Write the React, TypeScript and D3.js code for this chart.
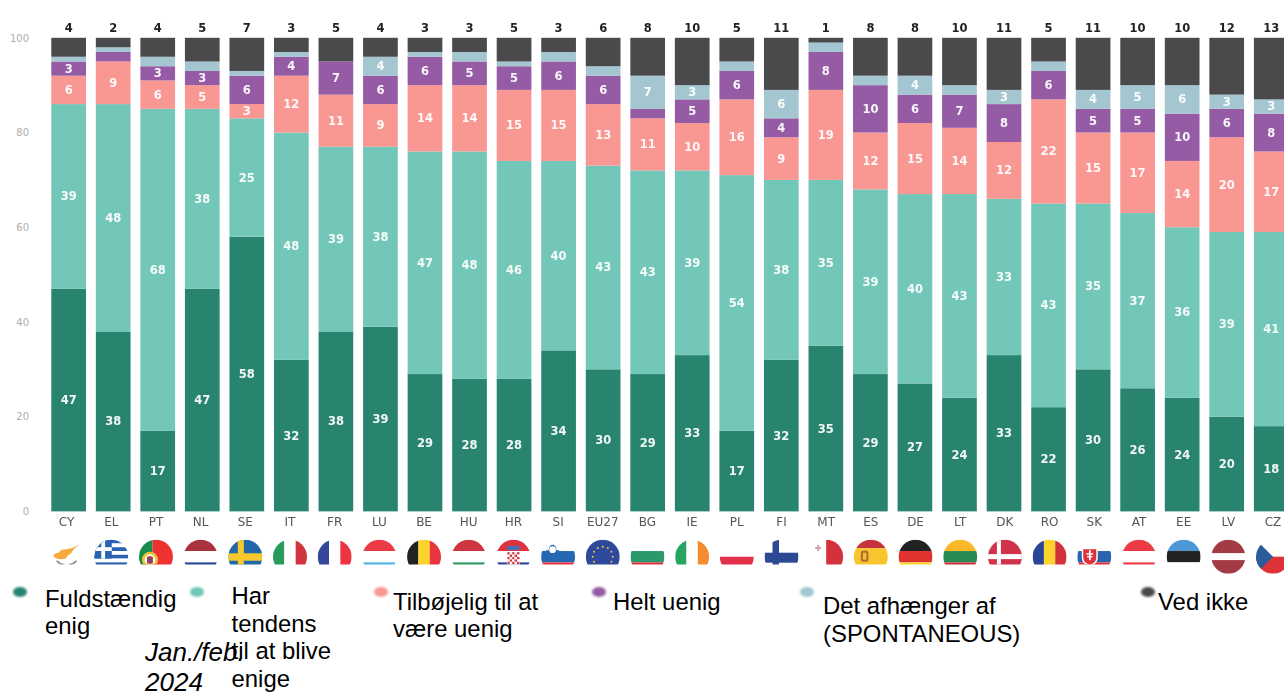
import React from "react";
import * as d3 from "d3";

const countries = ["CY","EL","PT","NL","SE","IT","FR","LU","BE","HU","HR","SI","EU27","BG","IE","PL","FI","MT","ES","DE","LT","DK","RO","SK","AT","EE","LV","CZ"];
const totallyAgree = [47,38,17,47,58,32,38,39,29,28,28,34,30,29,33,17,32,35,29,27,24,33,22,30,26,24,20,18];
const tendAgree    = [39,48,68,38,25,48,39,38,47,48,46,40,43,43,39,54,38,35,39,40,43,33,43,35,37,36,39,41];
const tendDisagree = [6,9,6,5,3,12,11,9,14,14,15,15,13,11,10,16,9,19,12,15,14,12,22,15,17,14,20,17];
const totallyDisagree = [3,2,3,3,6,4,7,6,6,5,5,6,6,2,5,6,4,8,10,6,7,8,6,5,5,10,6,8];
const depends = [1,1,2,2,1,1,0,4,1,2,1,2,2,7,3,2,6,2,2,4,2,3,2,4,5,6,3,3];
const dontKnow = [4,2,4,5,7,3,5,4,3,3,5,3,6,8,10,5,11,1,8,8,10,11,5,11,10,10,12,13];

const seriesKeys = ["a","b","c","d","e","f"];
const seriesColors = ["#28846f","#72c7b8","#f99792","#955ba5","#a3c6d0","#4a494c"];
const yTicks = [0,20,40,60,80,100];

const rows = countries.map((code,i)=>({code,a:totallyAgree[i],b:tendAgree[i],c:tendDisagree[i],d:totallyDisagree[i],e:depends[i],f:dontKnow[i]}));

const legendItems = [
  {color:seriesColors[0],mx:20,tx:45,lines:[["Fuldstændig",606.5],["enig",634]]},
  {color:seriesColors[1],mx:197,tx:231.5,lines:[["Har",604],["tendens",631.5],["til at blive",659],["enige",686.5]]},
  {color:seriesColors[2],mx:381,tx:393,lines:[["Tilbøjelig til at",610],["være uenig",637]]},
  {color:seriesColors[3],mx:599,tx:613,lines:[["Helt uenig",610]]},
  {color:seriesColors[4],mx:807,tx:823,lines:[["Det afhænger af",614],["(SPONTANEOUS)",642]]},
  {color:seriesColors[5],mx:1148,tx:1158,lines:[["Ved ikke",610]]},
] as {color:string,mx:number,tx:number,lines:[string,number][]}[];

const R=17;
const YEL="#fbd32c", ORG="#f58a2e";
const flagBands:Record<string,{dir:"h"|"v",bands:[string,number][]}> = {
  NL:{dir:"h",bands:[["#a9303c",1],["#fff",1],["#2b4c9a",1]]},
  LU:{dir:"h",bands:[["#ec3a46",1],["#fff",1],["#4fb4e4",1]]},
  HU:{dir:"h",bands:[["#cf3540",1],["#fff",1],["#2d9a5e",1]]},
  HR:{dir:"h",bands:[["#e0323e",1],["#fff",1],["#2b4c9a",1]]},
  SI:{dir:"h",bands:[["#fff",1],["#2768b4",1],["#e5343f",1]]},
  BG:{dir:"h",bands:[["#fff",1],["#2c9a6c",1],["#d9343f",1]]},
  PL:{dir:"h",bands:[["#fff",1],["#e2334a",1]]},
  DE:{dir:"h",bands:[["#222",1],["#e0302f",1],[YEL,1]]},
  LT:{dir:"h",bands:[["#fbb92c",1],["#2b8a55",1],["#c8323f",1]]},
  SK:{dir:"h",bands:[["#fff",1],["#2a63ae",1],["#e5343f",1]]},
  AT:{dir:"h",bands:[["#ec3a46",1],["#fff",1],["#ec3a46",1]]},
  EE:{dir:"h",bands:[["#5098d8",1],["#232323",1],["#fff",1]]},
  LV:{dir:"h",bands:[["#a23a44",2],["#fff",1],["#a23a44",2]]},
  CZ:{dir:"h",bands:[["#fff",1],["#dd3138",1]]},
  ES:{dir:"h",bands:[["#c8323a",1],["#f8c52e",2],["#c8323a",1]]},
  IT:{dir:"v",bands:[["#2a9a5c",1],["#fff",1],["#cf3540",1]]},
  FR:{dir:"v",bands:[["#34479c",1],["#fff",1],["#ec3440",1]]},
  BE:{dir:"v",bands:[["#222",1],[YEL,1],["#e8343f",1]]},
  IE:{dir:"v",bands:[["#25a55f",1],["#fff",1],[ORG,1]]},
  RO:{dir:"v",bands:[["#2c4494",1],[YEL,1],["#d2323a",1]]},
  PT:{dir:"v",bands:[["#1f8c4c",2],["#ee3030",3]]},
  MT:{dir:"v",bands:[["#fff",1],["#d3323e",1]]},
  SE:{dir:"h",bands:[["#2268a8",1]]},
  EU27:{dir:"h",bands:[["#2f4a9b",1]]},
  DK:{dir:"h",bands:[["#d0334a",1]]},
  FI:{dir:"h",bands:[["#fff",1]]},
  CY:{dir:"h",bands:[["#fff",1]]},
  EL:{dir:"h",bands:[["#2a62b4",1],["#fff",1],["#2a62b4",1],["#fff",1],["#2a62b4",1],["#fff",1],["#2a62b4",1],["#fff",1],["#2a62b4",1]]},
};
const uncropped = new Set(["LV","CZ"]);

function FlagExtras({code}:{code:string}){
  switch(code){
    case "SE": return <g fill="#f8c92e"><rect x={-17} y={-3.4} width={34} height={7.4}/><rect x={-7.5} y={-17} width={6} height={34}/></g>;
    case "DK": return <g fill="#fff"><rect x={-17} y={-2.6} width={34} height={5}/><rect x={-8} y={-17} width={4} height={34}/></g>;
    case "FI": return <g fill="#2f4a94"><rect x={-17} y={-4} width={34} height={10}/><rect x={-9} y={-17} width={6.5} height={34}/></g>;
    case "EL": return <g><rect x={-17} y={-17} width={17.5} height={18.9} fill="#2a62b4"/><rect x={-17} y={-9.5} width={17.5} height={3.8} fill="#fff"/><rect x={-10} y={-17} width={3.8} height={18.9} fill="#fff"/></g>;
    case "PT": return <g><circle cx={-6} cy={3} r={8} fill="#e8c23a"/><circle cx={-6} cy={3} r={5.4} fill="#fff"/><rect x={-9} y={-0.5} width={6} height={7.5} rx={1.5} fill="#c9352f"/><rect x={-7.2} y={1.5} width={2.6} height={3.5} fill="#2a62b4"/></g>;
    case "CY": return <g><path d="M-13.5 -1 L-11 -3.5 L-8 -4 L-5 -7 L0 -7.5 L5 -8.5 L12.5 -12 L7 -7.5 L5 -4 L1 -1 L-1 2 L-7 2.5 L-11 1.5 Z" fill="#f7a93b"/><path d="M-10 4 Q-7 7.5 -2 8 M10 4 Q7 7.5 2 8" stroke="#7f8f78" strokeWidth={1.6} fill="none"/></g>;
    case "SI": return <g><path d="M-12 -5.7 Q-12 -2 -5.5 -2 Q1 -2 1 -5.7 L1 -6.5 L-1.5 -6.5 Q-2 -12 -5.5 -12 Q-9 -12 -9.5 -6.5 L-12 -6.5 Z" fill="#2768b4"/><circle cx={-5.5} cy={-7} r={3.4} fill="#fff"/></g>;
    case "SK": return <g><path d="M-12.5 -9 H3.5 V1 Q3.5 7 -4.5 9.5 Q-12.5 7 -12.5 1 Z" fill="#fff"/><path d="M-11 -7.5 H2 V1 Q2 6 -4.5 8 Q-11 6 -11 1 Z" fill="#dc3038"/><rect x={-5.3} y={-6.5} width={1.8} height={10} fill="#fff"/><rect x={-8} y={-3.5} width={7} height={1.4} fill="#fff"/><rect x={-7.2} y={-0.7} width={5.4} height={1.4} fill="#fff"/></g>;
    case "HR": {
      const cells:React.ReactNode[]=[];
      for(let i=0;i<5;i++)for(let j=0;j<5;j++)cells.push(<rect key={i+"-"+j} x={-6+i*2.4} y={-4.5+j*2.4} width={2.4} height={2.4} fill={(i+j)%2?"#fff":"#d8323e"}/>);
      return <g><rect x={-6.5} y={-11} width={13} height={4.5} rx={1.2} fill="#4f6cb0"/><rect x={-6.5} y={-5} width={13} height={16} fill="#fff"/>{cells}</g>;
    }
    case "EU27": return <g fill="#e8c23a">{d3.range(12).map(i=><circle key={i} cx={10*Math.cos(i*Math.PI/6)} cy={10*Math.sin(i*Math.PI/6)} r={1.05}/>)}</g>;
    case "ES": return <g><rect x={-10} y={-6} width={7.5} height={11} rx={2} fill="#b5662a"/><rect x={-8} y={-4} width={3.6} height={7} fill="#e8c23a"/></g>;
    case "MT": return <g fill="#c9a6b2"><rect x={-11} y={-9.7} width={6} height={2}/><rect x={-9} y={-11.7} width={2} height={6}/></g>;
    case "CZ": return <path d="M-17 -17 L0 0 L-17 17 Z" fill="#2a5c9c"/>;
    default: return null;
  }
}

function Flag({code,x,y}:{code:string,x:number,y:number}){
  const f=flagBands[code];
  const total=d3.sum(f.bands,b=>b[1]);
  const s=d3.scaleLinear().domain([0,total]).range([-R,R]);
  let acc=0;
  const id="fc-"+code;
  const cut = uncropped.has(code)?R+2:7.9;
  return <g transform={`translate(${x},${y})`} clipPath={`url(#cut-${code})`}>
    <clipPath id={`cut-${code}`}><rect x={-R-2} y={-R-2} width={2*R+4} height={R+2+cut}/></clipPath>
    <clipPath id={id}><circle r={R}/></clipPath>
    <g clipPath={`url(#${id})`}>
      {f.bands.map(([col,w],i)=>{
        const a=s(acc); acc+=w; const b=s(acc);
        return f.dir==="h"
          ? <rect key={i} x={-R} y={a} width={2*R} height={b-a} fill={col}/>
          : <rect key={i} x={a} y={-R} width={b-a} height={2*R} fill={col}/>;
      })}
      <FlagExtras code={code}/>
    </g>
  </g>;
}

export default function App(){
  const x=d3.scaleBand().domain(countries).range([51.3,1288.6]).paddingInner(0.221).paddingOuter(0).align(0);
  const y=d3.scaleLinear().domain([0,100]).range([511.4,37.8]);
  const labelX=d3.scalePoint().domain(countries).range([66.6,1273]);
  const stack=d3.stack().keys(seriesKeys)(rows as any);
  const chartFont="'DejaVu Sans', sans-serif";
  const legendFont="'Liberation Sans', Arial, sans-serif";
  return (
    <svg width={1284} height={693} viewBox="0 0 1284 693" style={{position:"absolute",left:0,top:0,background:"#fff"}}>
      <defs>
        <filter id="soft" x="-5%" y="-5%" width="110%" height="110%"><feGaussianBlur stdDeviation={0.4}/></filter>
        <filter id="softer" x="-60%" y="-60%" width="220%" height="220%"><feGaussianBlur stdDeviation={0.9}/></filter>
      </defs>
      <g fontFamily={chartFont}>
        {yTicks.map(t=><text key={t} x={29} y={y(t)+3.8} textAnchor="end" fontSize={10} fill="#b3aeaa">{t}</text>)}
        {stack.map((s,i)=><g key={seriesKeys[i]} fill={seriesColors[i]}>
          {s.map((d,j)=>d[1]>d[0]?<rect key={j} x={x(countries[j])} y={y(d[1])} width={x.bandwidth()} height={y(d[0])-y(d[1])}/>:null)}
        </g>)}
        <g filter="url(#soft)">
        {stack.slice(0,5).map((s,i)=><g key={seriesKeys[i]} fill="#fff" fontSize={11.5} fontWeight={700} textAnchor="middle" fillOpacity={0.94}>
          {s.map((d,j)=>(d[1]-d[0])>=3?<text key={j} x={x(countries[j])!+x.bandwidth()/2} y={y((d[0]+d[1])/2)+4}>{d[1]-d[0]}</text>:null)}
        </g>)}
        {dontKnow.map((v,j)=><text key={j} x={x(countries[j])!+x.bandwidth()/2} y={32} textAnchor="middle" fontSize={11.5} fontWeight={700} fill="#222">{v}</text>)}
        {countries.map(c=><text key={c} x={labelX(c)} y={526} textAnchor="middle" fontSize={12} fill="#555">{c}</text>)}
        </g>
      </g>
      <g filter="url(#soft)">
        {countries.map(c=><Flag key={c} code={c} x={labelX(c)!} y={556.7}/>)}
      </g>
      <g fontFamily={legendFont} fontSize={23.9} fill="#000">
        {legendItems.map((l,i)=><g key={i}>
          <ellipse cx={l.mx} cy={592} rx={7} ry={5} fill={l.color} filter="url(#softer)"/>
          {l.lines.map(([t,b],k)=><text key={k} x={l.tx} y={b}>{t}</text>)}
        </g>)}
        <g fontStyle="italic" fontSize={26}>
          <text x={145} y={660.5}>Jan./feb.</text>
          <text x={145} y={690.5}>2024</text>
        </g>
      </g>
    </svg>
  );
}
